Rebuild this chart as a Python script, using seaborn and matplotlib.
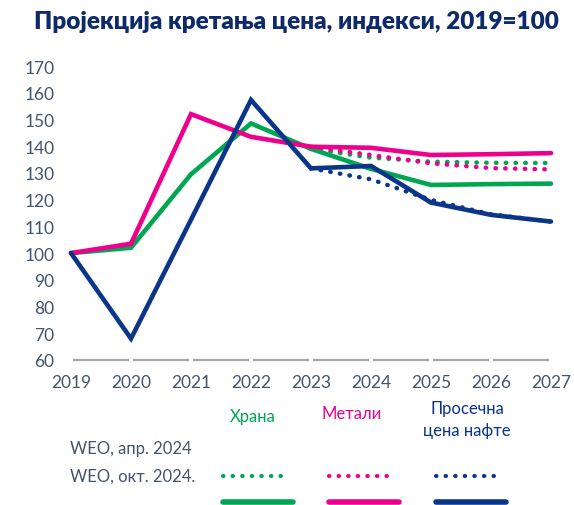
import matplotlib
matplotlib.use("Agg")
import matplotlib.pyplot as plt
import seaborn as sns
import pandas as pd
import numpy as np

years = [2019, 2020, 2021, 2022, 2023, 2024, 2025, 2026, 2027]
food_oct = [100, 102, 129.5, 148.5, 139, 131.5, 125.5, 125.8, 126]
metals_oct = [100, 103.5, 152, 143.5, 139.8, 139.4, 136.7, 137, 137.4]
oil_oct = [100, 68, 112.5, 157.3, 131.7, 132.6, 118.9, 114.3, 111.8]
forecast_years = [2023, 2024, 2025, 2026, 2027]
food_apr = [139, 135.7, 134.2, 133.8, 133.7]
metals_apr = [139.8, 136.7, 133.6, 131.8, 131.3]
oil_apr = [131.7, 127.6, 119.9, 114.5, 111.8]
yticks = [60, 70, 80, 90, 100, 110, 120, 130, 140, 150, 160, 170]

title = "Пројекција кретања цена, индекси, 2019=100"
names = ["Храна", "Метали", "Просечна\nцена нафте"]
row_labels = ["WEO, апр. 2024", "WEO, окт. 2024."]

GREEN = "#00A651"
PINK = "#EC008C"
NAVY = "#0A3589"
TXT = "#44546A"
TITLE = "#0F2A6B"

sns.set_theme(style="white")
plt.rcParams['font.family'] = ['Lato', 'Noto Sans', 'DejaVu Sans']

fig = plt.figure(figsize=(5.74, 5.06), dpi=100)
W, H = 574, 506
ax = fig.add_axes([71 / W, 1 - 361 / H, (551 - 71) / W, (361 - 67) / H])

pos = {y: i for i, y in enumerate(years)}
cols = [GREEN, PINK, NAVY]
oct_series = [food_oct, metals_oct, oil_oct]
apr_series = [food_apr, metals_apr, oil_apr]

for vals, c in zip(apr_series, cols):
    df = pd.DataFrame({"x": [pos[y] for y in forecast_years], "v": vals})
    sns.lineplot(data=df, x="x", y="v", ax=ax, color=c, lw=3.2,
                 linestyle=(0, (0.1, 2.1)), dash_capstyle="round", clip_on=False)
for vals, c in zip(oct_series, cols):
    df = pd.DataFrame({"x": [pos[y] for y in years], "v": vals})
    sns.lineplot(data=df, x="x", y="v", ax=ax, color=c, lw=3.3, clip_on=False,
                 solid_joinstyle="miter")

ax.set_xlim(0, len(years) - 1)
ax.set_ylim(60, 170)
ax.set_yticks(yticks)
ax.set_xticks(range(len(years)))
ax.set_xticklabels([str(y) for y in years])
ax.set_xlabel("")
ax.set_ylabel("")
for s in ax.spines.values():
    s.set_visible(False)
ax.tick_params(axis="both", length=0, labelsize=12.5, colors=TXT)
ax.tick_params(axis="y", pad=12)
ax.tick_params(axis="x", pad=10)

# segmented baseline
for i in range(len(years) - 1):
    ax.plot([i + 0.04, i + 0.96], [60, 60], color="#A6A6A6", lw=1.6,
            clip_on=False, zorder=0, solid_capstyle="butt")

fig.text(296 / W, 1 - 22 / H, title, ha="center", va="center",
         fontsize=17.5, fontweight="heavy", color=TITLE)

# legend block
heads = [(253, 417), (352, 414), (467, 420)]
for (hx, hy), n, c in zip(heads, names, cols):
    fig.text(hx / W, 1 - hy / H, n, ha="center", va="center", fontsize=12,
             color=c, linespacing=1.5)
fig.text(70 / W, 1 - 449 / H, row_labels[0], ha="left", va="center",
         fontsize=12, color=TXT)
fig.text(70 / W, 1 - 477 / H, row_labels[1], ha="left", va="center",
         fontsize=12, color=TXT)
seg = [(223, 293), (329, 399), (436, 506)]
for (x0, x1), c in zip(seg, cols):
    fig.add_artist(plt.Line2D([x0 / W, (x1 - 10) / W], [1 - 477 / H] * 2,
                              color=c, lw=3, linestyle=(0, (0.1, 2.2)),
                              dash_capstyle="round"))
    fig.add_artist(plt.Line2D([x0 / W, x1 / W], [1 - 503 / H] * 2,
                              color=c, lw=4, solid_capstyle="round"))

fig.savefig("out.png", dpi=100)
